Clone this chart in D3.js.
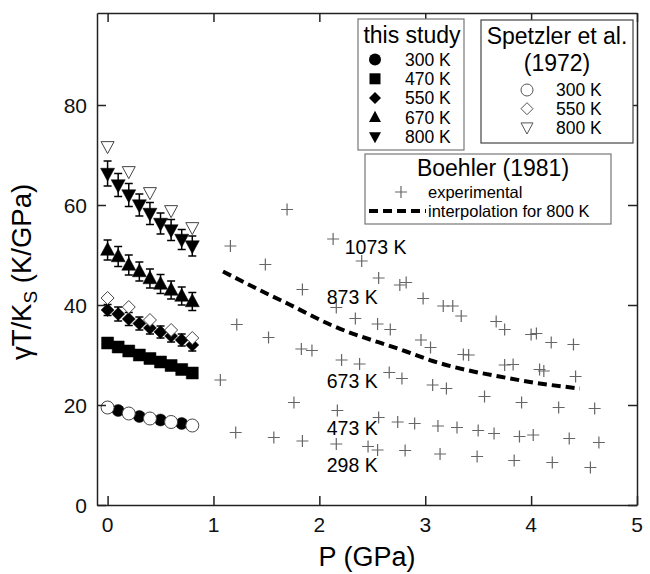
<!DOCTYPE html>
<meta charset="utf-8">
<script src="https://d3js.org/d3.v7.min.js"></script>
<style>
  body { margin: 0; background: #fff; font-family: "Liberation Sans", Arial, sans-serif; }
  .frame line, .frame path { stroke: #222; stroke-width: 1.5px; }
  .ticklabel { font-size: 21px; fill: #111; }
  .cross { stroke: #666; stroke-width: 1.2px; }
  .legbox { fill: #fff; stroke: #777; stroke-width: 1.2px; }
</style>
<div id="chart"></div>
<script>
  // ---- data ----
  var pThis = [0, 0.1, 0.2, 0.3, 0.4, 0.5, 0.6, 0.7, 0.8];
  var p300This = [0.1, 0.3, 0.5, 0.7];
  var this300 = [18.9, 17.7, 17.0, 16.3];
  var this470 = [32.4, 31.6, 30.8, 30.0, 29.3, 28.6, 27.9, 27.1, 26.4];
  var this550 = [39.0, 38.2, 37.2, 36.3, 35.4, 34.6, 33.8, 33.0, 32.0];
  var err550 = [1.1, 1.4, 1.3, 1.3, 1.2, 1.2, 1.2, 1.2, 1.2];
  var this670 = [51.0, 49.7, 48.0, 46.7, 45.3, 44.2, 43.0, 41.8, 40.7];
  var err670 = [2.0, 2.0, 2.0, 1.9, 1.9, 1.9, 1.8, 1.8, 1.8];
  var this800 = [66.3, 64.0, 62.0, 60.0, 58.3, 56.3, 55.0, 53.1, 51.8];
  var err800 = [2.5, 2.3, 2.3, 2.2, 2.2, 2.1, 2.1, 2.0, 2.0];

  var pSpetzler = [0, 0.2, 0.4, 0.6, 0.8];
  var sp300 = [19.5, 18.3, 17.3, 16.6, 15.9];
  var sp550 = [41.4, 39.6, 37.0, 35.0, 33.4];
  var sp800 = [71.7, 66.7, 62.5, 58.9, 55.5];

  // Boehler (1981) experimental points
  var boehlerP = [1.695, 1.16, 1.49, 2.13, 2.40, 2.56, 2.76, 2.82, 1.84, 1.22, 1.52, 1.83, 1.93, 2.16, 2.34, 2.55, 2.67,
    2.21, 2.38, 2.66, 2.78, 1.065, 1.76, 2.17, 2.56, 2.74, 1.21, 1.57, 1.84, 2.16, 2.46, 2.55, 2.81,
    2.98, 3.17, 3.26, 3.34, 3.67, 3.75, 4.00, 4.05, 4.19, 4.40, 2.96, 3.05, 3.36, 3.41, 3.75, 3.83,
    4.08, 4.12, 4.42, 3.07, 3.20, 3.56, 3.91, 4.26, 4.60, 2.90, 3.12, 3.30, 3.50, 3.65, 3.89, 4.02,
    4.36, 4.64, 3.14, 3.49, 3.84, 4.20, 4.56];
  var boehlerV = [59.1, 51.8, 48.1, 53.2, 48.8, 45.4, 44.0, 44.5, 43.1, 36.1, 33.5, 31.2, 30.9, 39.5, 37.3, 36.2, 35.1,
    29.0, 28.2, 26.5, 25.3, 25.0, 20.5, 18.9, 17.5, 16.6, 14.5, 13.5, 12.8, 12.2, 11.7, 11.0, 10.9,
    41.3, 39.8, 39.8, 37.8, 36.7, 35.1, 34.1, 34.3, 32.5, 32.1, 33.0, 31.5, 30.1, 30.0, 28.0, 28.1,
    27.1, 26.8, 25.7, 24.0, 23.3, 21.7, 20.5, 19.5, 19.3, 16.3, 15.8, 15.5, 14.9, 14.3, 13.7, 14.0,
    13.3, 12.5, 10.2, 9.7, 8.9, 8.5, 7.5];

  // interpolation for 800 K
  var interpP = [1.09, 1.34, 1.56, 1.66, 2.11, 2.82, 3.07, 3.39, 3.70, 4.02, 4.46];
  var interpV = [46.7, 44.0, 41.7, 40.7, 36.0, 30.7, 28.8, 27.0, 25.7, 24.5, 23.3];

  var tempLabels = ["1073 K", "873 K", "673 K", "473 K", "298 K"];
  var tempLabelP = [2.24, 2.07, 2.07, 2.07, 2.07];
  var tempLabelV = [50.2, 40.2, 23.4, 14.0, 6.7];

  var xTicks = [0, 1, 2, 3, 4, 5];
  var yTicks = [0, 20, 40, 60, 80];

  // ---- layout ----
  var W = 650, H = 574;
  var margin = { top: 13, right: 13, bottom: 69, left: 97 };

  var x = d3.scaleLinear().domain([-0.1, 5]).range([margin.left, W - margin.right]);
  var y = d3.scaleLinear().domain([0, 98.4]).range([H - margin.bottom, margin.top]);

  var svg = d3.select("#chart").append("svg")
    .attr("width", W).attr("height", H);

  // symbol paths, s = half size
  function shape(kind, s) {
    if (kind === "circle") return "M" + s + ",0A" + s + "," + s + " 0 1,1 " + (-s) + ",0A" + s + "," + s + " 0 1,1 " + s + ",0Z";
    if (kind === "square") return "M" + (-s) + "," + (-s) + "H" + s + "V" + s + "H" + (-s) + "Z";
    if (kind === "diamond") return "M0," + (-s) + "L" + s + ",0L0," + s + "L" + (-s) + ",0Z";
    if (kind === "up") return "M0," + (-s * 1.1) + "L" + s + "," + (s * 0.75) + "L" + (-s) + "," + (s * 0.75) + "Z";
    if (kind === "down") return "M0," + (s * 1.1) + "L" + s + "," + (-s * 0.75) + "L" + (-s) + "," + (-s * 0.75) + "Z";
  }
  function crossPath(s) { return "M" + (-s) + ",0H" + s + "M0," + (-s) + "V" + s; }

  // ---- Boehler crosses ----
  svg.append("g").selectAll("path")
    .data(boehlerP.map(function (p, i) { return [p, boehlerV[i]]; }))
    .join("path")
    .attr("class", "cross")
    .attr("transform", function (d) { return "translate(" + x(d[0]) + "," + y(d[1]) + ")"; })
    .attr("d", crossPath(6));

  // dashed interpolation
  var line = d3.line()
    .x(function (d) { return x(d[0]); })
    .y(function (d) { return y(d[1]); })
    .curve(d3.curveMonotoneX);
  svg.append("path")
    .datum(interpP.map(function (p, i) { return [p, interpV[i]]; }))
    .attr("d", line)
    .attr("fill", "none")
    .attr("stroke", "#000")
    .attr("stroke-width", 4)
    .attr("stroke-dasharray", "9,5");

  // temperature labels
  svg.append("g").selectAll("text")
    .data(tempLabels)
    .join("text")
    .attr("x", function (d, i) { return x(tempLabelP[i]); })
    .attr("y", function (d, i) { return y(tempLabelV[i]); })
    .style("font-size", "19.5px")
    .attr("fill", "#000")
    .text(function (d) { return d; });

  // ---- this study ----
  function errorBars(vals, errs) {
    var g = svg.append("g").attr("stroke", "#000").attr("stroke-width", 1.5);
    pThis.forEach(function (p, i) {
      var cx = x(p), y1 = y(vals[i] + errs[i]), y2 = y(vals[i] - errs[i]);
      g.append("line").attr("x1", cx).attr("x2", cx).attr("y1", y1).attr("y2", y2);
      g.append("line").attr("x1", cx - 4).attr("x2", cx + 4).attr("y1", y1).attr("y2", y1);
      g.append("line").attr("x1", cx - 4).attr("x2", cx + 4).attr("y1", y2).attr("y2", y2);
    });
  }
  errorBars(this550, err550);
  errorBars(this670, err670);
  errorBars(this800, err800);

  function points(ps, vals, kind, s, filled) {
    svg.append("g").selectAll("path")
      .data(ps.map(function (p, i) { return [p, vals[i]]; }))
      .join("path")
      .attr("transform", function (d) { return "translate(" + x(d[0]) + "," + y(d[1]) + ")"; })
      .attr("d", shape(kind, s))
      .attr("fill", filled ? "#000" : "#fff")
      .attr("stroke", filled ? "#000" : "#444")
      .attr("stroke-width", filled ? 0.5 : 1);
  }
  points(p300This, this300, "circle", 6, true);
  points(pThis, this470, "square", 6, true);
  points(pThis, this550, "diamond", 6.5, true);
  points(pThis, this670, "up", 7, true);
  points(pThis, this800, "down", 7, true);

  // ---- Spetzler (open) ----
  points(pSpetzler, sp300, "circle", 6.5, false);
  points(pSpetzler, sp550, "diamond", 6.5, false);
  points(pSpetzler, sp800, "down", 6.5, false);

  // ---- frame / axes ----
  var frame = svg.append("g").attr("class", "frame");
  frame.append("g").attr("transform", "translate(0," + y(0) + ")")
    .call(d3.axisBottom(x).tickValues(xTicks).tickSizeInner(-9).tickSizeOuter(0).tickFormat(""));
  frame.append("g").attr("transform", "translate(0," + margin.top + ")")
    .call(d3.axisTop(x).tickValues(xTicks).tickSizeInner(-9).tickSizeOuter(0).tickFormat(""));
  frame.append("g").attr("transform", "translate(" + margin.left + ",0)")
    .call(d3.axisLeft(y).tickValues(yTicks).tickSizeInner(-9).tickSizeOuter(0).tickFormat(""));
  frame.append("g").attr("transform", "translate(" + (W - margin.right) + ",0)")
    .call(d3.axisRight(y).tickValues(yTicks).tickSizeInner(-9).tickSizeOuter(0).tickFormat(""));
  frame.selectAll(".domain").attr("stroke", "#222").attr("stroke-width", 1.5);
  frame.selectAll(".tick line").attr("stroke", "#222").attr("stroke-width", 1.5);

  // tick labels
  svg.append("g").selectAll("text").data(xTicks).join("text")
    .attr("class", "ticklabel")
    .attr("x", function (d) { return x(d); })
    .attr("y", y(0) + 27)
    .attr("text-anchor", "middle")
    .text(function (d) { return d; });
  svg.append("g").selectAll("text").data(yTicks).join("text")
    .attr("class", "ticklabel")
    .attr("x", margin.left - 10)
    .attr("y", function (d) { return y(d); })
    .attr("dy", "0.36em")
    .attr("text-anchor", "end")
    .text(function (d) { return d; });

  // axis titles
  svg.append("text")
    .attr("x", x(2.45)).attr("y", 566)
    .attr("text-anchor", "middle")
    .style("font-size", "27px")
    .text("P (GPa)");

  var yt = svg.append("text")
    .attr("transform", "translate(31,272)rotate(-90)")
    .attr("text-anchor", "middle")
    .style("font-size", "27.5px");
  yt.append("tspan").text("\u03B3T/K");
  yt.append("tspan").attr("dy", 6).style("font-size", "19px").text("S");
  yt.append("tspan").attr("dy", -6).text(" (K/GPa)");

  // ---- legends ----
  // this study
  var l1 = svg.append("g");
  l1.append("rect").attr("class", "legbox").attr("x", 358).attr("y", 19).attr("width", 106).attr("height", 131);
  l1.append("text").attr("x", 412).attr("y", 43).attr("text-anchor", "middle").style("font-size", "23px").text("this study");
  var l1Labels = ["300 K", "470 K", "550 K", "670 K", "800 K"];
  var l1Kinds = ["circle", "square", "diamond", "up", "down"];
  l1Labels.forEach(function (t, i) {
    var yy = 59.5 + i * 19.3;
    l1.append("path").attr("transform", "translate(375," + yy + ")")
      .attr("d", shape(l1Kinds[i], i === 1 ? 5.5 : 6)).attr("fill", "#000");
    l1.append("text").attr("x", 405).attr("y", yy).attr("dy", "0.36em").style("font-size", "17.5px").text(t);
  });

  // Spetzler
  var l2 = svg.append("g");
  l2.append("rect").attr("class", "legbox").style("stroke", "#444")
    .attr("x", 481).attr("y", 20).attr("width", 152).attr("height", 123);
  l2.append("text").attr("x", 557).attr("y", 44).attr("text-anchor", "middle").style("font-size", "23px").text("Spetzler et al.");
  l2.append("text").attr("x", 557).attr("y", 71).attr("text-anchor", "middle").style("font-size", "23px").text("(1972)");
  var l2Labels = ["300 K", "550 K", "800 K"];
  var l2Kinds = ["circle", "diamond", "down"];
  l2Labels.forEach(function (t, i) {
    var yy = 90 + i * 18.7;
    l2.append("path").attr("transform", "translate(527," + yy + ")")
      .attr("d", shape(l2Kinds[i], 6)).attr("fill", "#fff").attr("stroke", "#555").attr("stroke-width", 1);
    l2.append("text").attr("x", 556).attr("y", yy).attr("dy", "0.36em").style("font-size", "17.5px").text(t);
  });

  // Boehler
  var l3 = svg.append("g");
  l3.append("rect").attr("class", "legbox").attr("x", 365).attr("y", 154).attr("width", 246).attr("height", 70);
  l3.append("text").attr("x", 493).attr("y", 176).attr("text-anchor", "middle").style("font-size", "23px").text("Boehler (1981)");
  l3.append("path").attr("class", "cross").attr("transform", "translate(401,192)").attr("d", crossPath(6));
  l3.append("text").attr("x", 428).attr("y", 192).attr("dy", "0.36em").style("font-size", "16.5px").text("experimental");
  l3.append("line").attr("x1", 369).attr("x2", 426).attr("y1", 211).attr("y2", 211)
    .attr("stroke", "#000").attr("stroke-width", 4).attr("stroke-dasharray", "9,5");
  l3.append("text").attr("x", 428).attr("y", 211).attr("dy", "0.36em").style("font-size", "16.5px").text("interpolation for 800 K");
</script>
